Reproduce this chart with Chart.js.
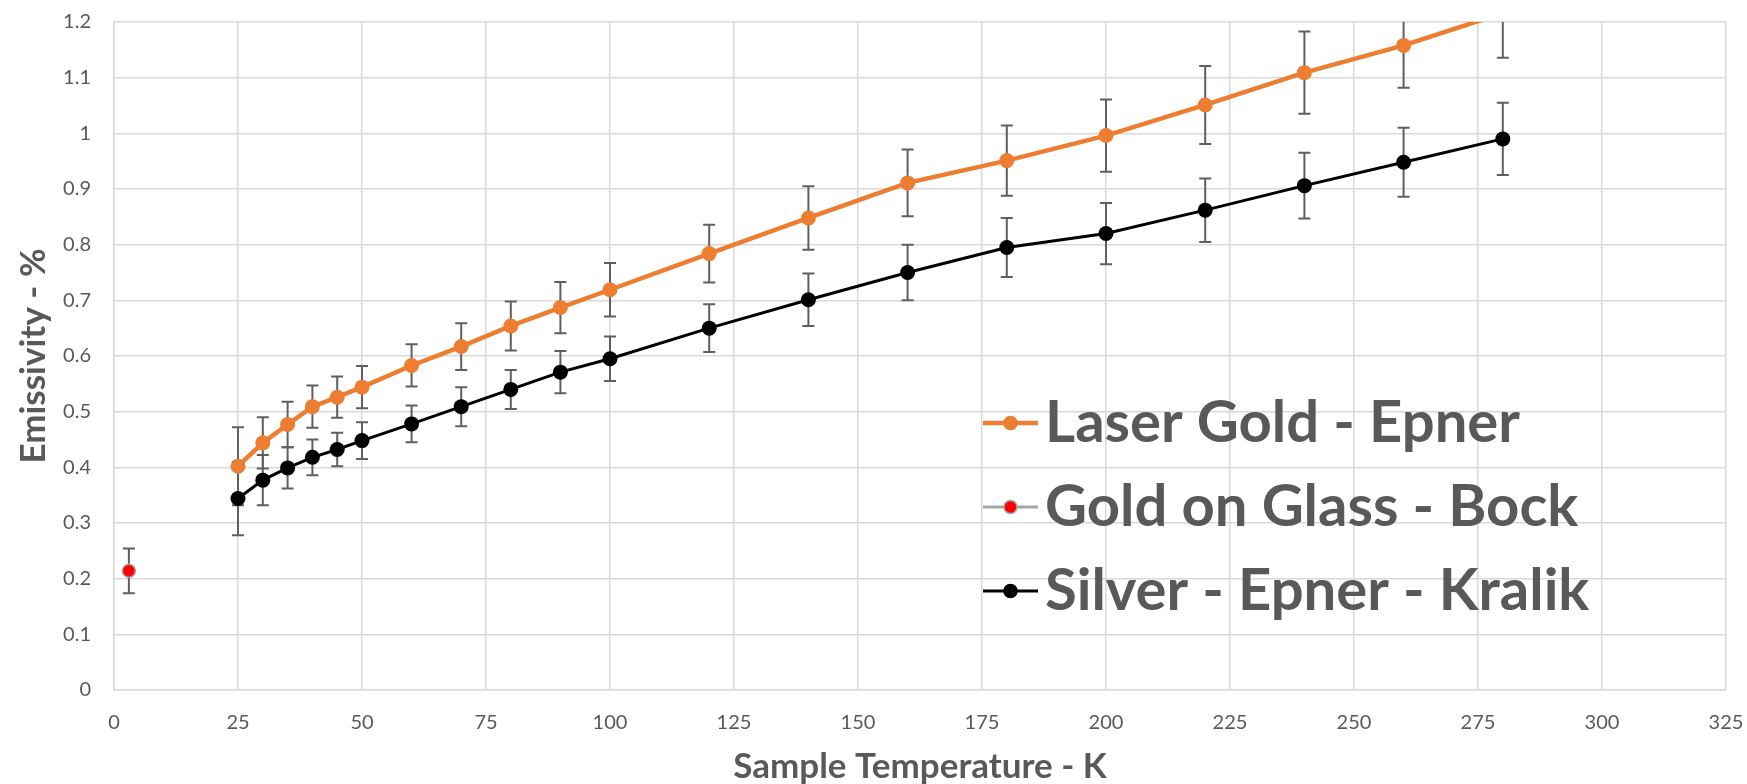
<!DOCTYPE html>
<html>
<head>
<meta charset="utf-8">
<script src="https://cdn.jsdelivr.net/npm/chart.js@4.4.1/dist/chart.umd.min.js"></script>
<style>
  html, body { margin: 0; padding: 0; background: #ffffff; }
  #chart { display: block; }
</style>
</head>
<body>
<canvas id="chart" width="1747" height="784"></canvas>
<script>
// ---- data ----
const goldTemps = [25, 30, 35, 40, 45, 50, 60, 70, 80, 90, 100, 120, 140, 160, 180, 200, 220, 240, 260, 280];
const goldEps   = [0.402, 0.444, 0.477, 0.509, 0.526, 0.544, 0.583, 0.617, 0.654, 0.687, 0.719, 0.784, 0.848, 0.911, 0.951, 0.996, 1.051, 1.109, 1.158, 1.216];
const goldErr   = [0.070, 0.046, 0.041, 0.038, 0.037, 0.038, 0.038, 0.042, 0.044, 0.046, 0.048, 0.052, 0.057, 0.060, 0.063, 0.065, 0.070, 0.074, 0.076, 0.080];

const bockTemps = [3];
const bockEps   = [0.214];
const bockErr   = [0.040];

const silverTemps = [25, 30, 35, 40, 45, 50, 60, 70, 80, 90, 100, 120, 140, 160, 180, 200, 220, 240, 260, 280];
const silverEps   = [0.344, 0.377, 0.399, 0.418, 0.432, 0.448, 0.478, 0.509, 0.540, 0.571, 0.595, 0.650, 0.701, 0.750, 0.795, 0.820, 0.862, 0.906, 0.948, 0.990];
const silverErr   = [0.066, 0.045, 0.037, 0.032, 0.030, 0.033, 0.033, 0.035, 0.035, 0.038, 0.040, 0.043, 0.047, 0.050, 0.053, 0.055, 0.057, 0.059, 0.062, 0.065];

const seriesNames = ['Laser Gold - Epner', 'Gold on Glass - Bock', 'Silver - Epner - Kralik'];
const xTicks = { min: 0, max: 325, step: 25 };
const yTicks = { min: 0, max: 1.2, step: 0.1 };

const FONT = 'Lato, "Open Sans", sans-serif';
const TEXT = '#595959';
const GRID = '#d9d9d9';

function toPoints(xs, ys, errs) {
  return xs.map((x, i) => ({ x, y: ys[i], err: errs[i] }));
}

// symmetric Y error bars, drawn under the markers
const errorBars = {
  id: 'errorBars',
  beforeDatasetsDraw(chart) {
    const { ctx, chartArea, scales } = chart;
    ctx.save();
    ctx.beginPath();
    ctx.rect(chartArea.left, chartArea.top, chartArea.right - chartArea.left, chartArea.bottom - chartArea.top);
    ctx.clip();
    ctx.strokeStyle = '#5f5f5f';
    ctx.lineWidth = 2;
    const cap = 6;
    chart.data.datasets.forEach(ds => {
      ds.data.forEach(p => {
        const x = scales.x.getPixelForValue(p.x);
        const yTop = scales.y.getPixelForValue(p.y + p.err);
        const yBot = scales.y.getPixelForValue(p.y - p.err);
        ctx.beginPath();
        ctx.moveTo(x, yTop); ctx.lineTo(x, yBot);
        ctx.moveTo(x - cap, yTop); ctx.lineTo(x + cap, yTop);
        ctx.moveTo(x - cap, yBot); ctx.lineTo(x + cap, yBot);
        ctx.stroke();
      });
    });
    ctx.restore();
  }
};

// big legend inside the plot area, lower right
const insideLegend = {
  id: 'insideLegend',
  afterDatasetsDraw(chart) {
    const { ctx } = chart;
    const rows = [423, 507, 591];
    const lineX0 = 983, lineX1 = 1038, textX = 1045;
    ctx.save();
    chart.data.datasets.forEach((ds, i) => {
      const y = rows[i];
      ctx.strokeStyle = ds.borderColor;
      ctx.lineWidth = ds.borderWidth;
      ctx.beginPath();
      ctx.moveTo(lineX0, y); ctx.lineTo(lineX1, y);
      ctx.stroke();
      ctx.beginPath();
      ctx.arc((lineX0 + lineX1) / 2, y, 6.5, 0, Math.PI * 2);
      ctx.fillStyle = ds.pointBackgroundColor;
      ctx.fill();
      ctx.lineWidth = 1.5;
      ctx.strokeStyle = ds.pointBorderColor;
      ctx.stroke();
      ctx.fillStyle = TEXT;
      ctx.font = 'bold 58px ' + FONT;
      ctx.textBaseline = 'alphabetic';
      ctx.textAlign = 'left';
      ctx.fillText(ds.label, textX, y + 19);
    });
    ctx.restore();
  }
};

const fmtY = v => String(Number(v.toFixed(1)));

new Chart(document.getElementById('chart'), {
  type: 'scatter',
  data: {
    datasets: [
      {
        label: seriesNames[0],
        data: toPoints(goldTemps, goldEps, goldErr),
        showLine: true,
        borderColor: '#ed7d31',
        borderWidth: 4.5,
        pointBackgroundColor: '#ed7d31',
        pointBorderColor: '#ed7d31',
        pointRadius: 7.5,
        pointBorderWidth: 0
      },
      {
        label: seriesNames[1],
        data: toPoints(bockTemps, bockEps, bockErr),
        showLine: true,
        borderColor: '#a5a5a5',
        borderWidth: 3,
        pointBackgroundColor: '#ff0000',
        pointBorderColor: '#a5a5a5',
        pointRadius: 6.5,
        pointBorderWidth: 1.5
      },
      {
        label: seriesNames[2],
        data: toPoints(silverTemps, silverEps, silverErr),
        showLine: true,
        borderColor: '#000000',
        borderWidth: 3,
        pointBackgroundColor: '#000000',
        pointBorderColor: '#000000',
        pointRadius: 7.5,
        pointBorderWidth: 0
      }
    ]
  },
  options: {
    responsive: false,
    animation: false,
    devicePixelRatio: 1,
    layout: { padding: { top: 22, right: 21, left: 0, bottom: 0 } },
    plugins: {
      legend: { display: false },
      tooltip: { enabled: false }
    },
    scales: {
      x: {
        type: 'linear',
        min: xTicks.min,
        max: xTicks.max,
        // fixed band height; label overflow is covered by the layout padding
        afterFit: s => { s.height = 94; s.paddingLeft = 0; s.paddingRight = 0; },
        ticks: {
          stepSize: xTicks.step,
          color: TEXT,
          font: { family: FONT, size: 20 },
          padding: 21,
          maxRotation: 0
        },
        grid: { color: GRID, lineWidth: 1.5, drawTicks: false },
        border: { color: GRID, width: 1.5 },
        title: {
          display: true,
          text: 'Sample Temperature - K',
          color: TEXT,
          font: { family: FONT, size: 35, weight: 'bold', lineHeight: 1 },
          padding: { top: 0, bottom: 0 }
        }
      },
      y: {
        type: 'linear',
        min: yTicks.min,
        max: yTicks.max,
        afterFit: s => { s.width = 114; s.paddingTop = 0; s.paddingBottom = 0; },
        ticks: {
          stepSize: yTicks.step,
          color: TEXT,
          font: { family: FONT, size: 20 },
          padding: 23,
          callback: fmtY
        },
        grid: { color: GRID, lineWidth: 1.5, drawTicks: false },
        border: { color: GRID, width: 1.5 },
        title: {
          display: true,
          text: 'Emissivity - %',
          color: TEXT,
          font: { family: FONT, size: 35, weight: 'bold', lineHeight: 1 },
          padding: { top: 16, bottom: 0 }
        }
      }
    }
  },
  plugins: [errorBars, insideLegend]
});
</script>
</body>
</html>
